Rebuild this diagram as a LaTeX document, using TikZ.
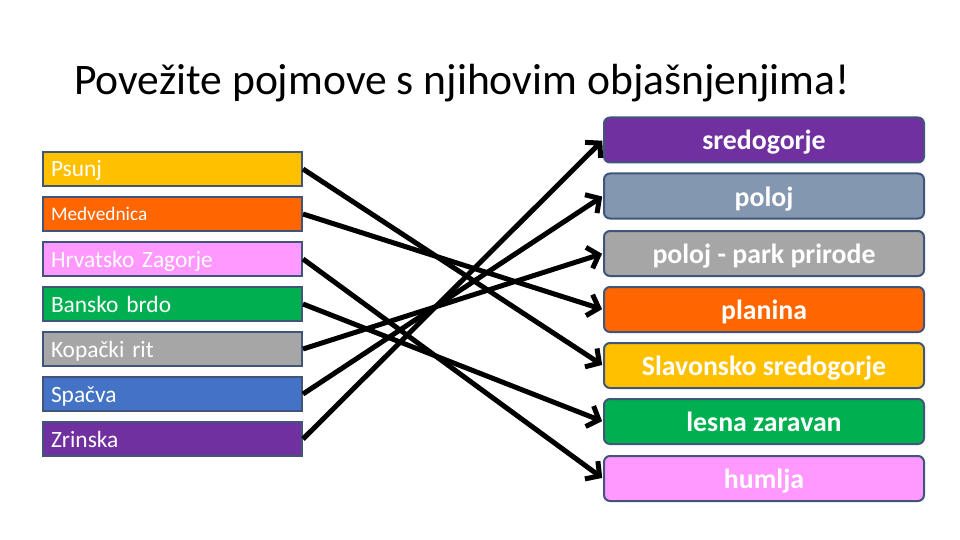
\documentclass[tikz,border=0pt]{standalone}
\usepackage{fontspec}
\setmainfont{Carlito}
\usetikzlibrary{arrows.meta}
\definecolor{cgold}{HTML}{FFC000}
\definecolor{corange}{HTML}{FF6600}
\definecolor{cpink}{HTML}{FF99FF}
\definecolor{cgreen}{HTML}{00B050}
\definecolor{cgray}{HTML}{A6A6A6}
\definecolor{cblue}{HTML}{4472C4}
\definecolor{cpurple}{HTML}{7030A0}
\definecolor{cslate}{HTML}{8497B0}
\definecolor{cborder}{HTML}{41557A}
\tikzset{
  lbox/.style={draw=cborder, line width=2pt, anchor=west, text width=243pt, align=left,
    inner xsep=8pt, inner ysep=0pt, minimum height=34pt, text height=19pt, text depth=3pt,
    text=white, font=\fontsize{23.4}{26}\selectfont},
  rbox/.style={draw=cborder, line width=2pt, rounded corners=6pt, anchor=west, minimum width=320pt,
    minimum height=45pt, inner sep=0pt, text height=24pt, text depth=4pt,
    text=white, font=\fontsize{27.8}{30}\selectfont\bfseries},
  conn/.style={line width=5pt, -{Straight Barb[length=10pt,width=22pt]}, shorten >=1pt}
}
\begin{document}
\begin{tikzpicture}[x=1pt,y=-1pt]
\useasboundingbox[fill=white] (0,0) rectangle (960,540);
\node[anchor=base west, inner sep=0pt, font=\fontsize{43.6}{48}\selectfont] (title) at (74,95) {Povežite pojmove s njihovim objašnjenjima!};
% left boxes
\node[lbox, fill=cgold] (L1) at (42,169) {Psunj};
\node[lbox, fill=corange, font=\fontsize{19.3}{22}\selectfont, text height=16pt, text depth=3pt] (L2) at (42,214) {Medvednica};
\node[lbox, fill=cpink] (L3) at (42,259) {Hrvatsko Zagorje};
\node[lbox, fill=cgreen] (L4) at (42,304) {Bansko brdo};
\node[lbox, fill=cgray] (L5) at (42,349) {Kopački rit};
\node[lbox, fill=cblue] (L6) at (42,394) {Spačva};
\node[lbox, fill=cpurple] (L7) at (42,439) {Zrinska};
% right boxes
\node[rbox, fill=cpurple] (R1) at (603,140) {sredogorje};
\node[rbox, fill=cslate] (R2) at (603,196) {poloj};
\node[rbox, fill=cgray] (R3) at (603,253.5) {poloj - park prirode};
\node[rbox, fill=corange] (R4) at (603,309.5) {planina};
\node[rbox, fill=cgold] (R5) at (603,365.5) {Slavonsko sredogorje};
\node[rbox, fill=cgreen] (R6) at (603,421.5) {lesna zaravan};
\node[rbox, fill=cpink] (R7) at (603,478.5) {humlja};
% connectors
\draw[conn] (L1.east) -- (R5.west);
\draw[conn] (L2.east) -- (R4.west);
\draw[conn] (L3.east) -- (R7.west);
\draw[conn] (L4.east) -- (R6.west);
\draw[conn] (L5.east) -- (R3.west);
\draw[conn] (L6.east) -- (R2.west);
\draw[conn] (L7.east) -- (R1.west);
\end{tikzpicture}
\end{document}
